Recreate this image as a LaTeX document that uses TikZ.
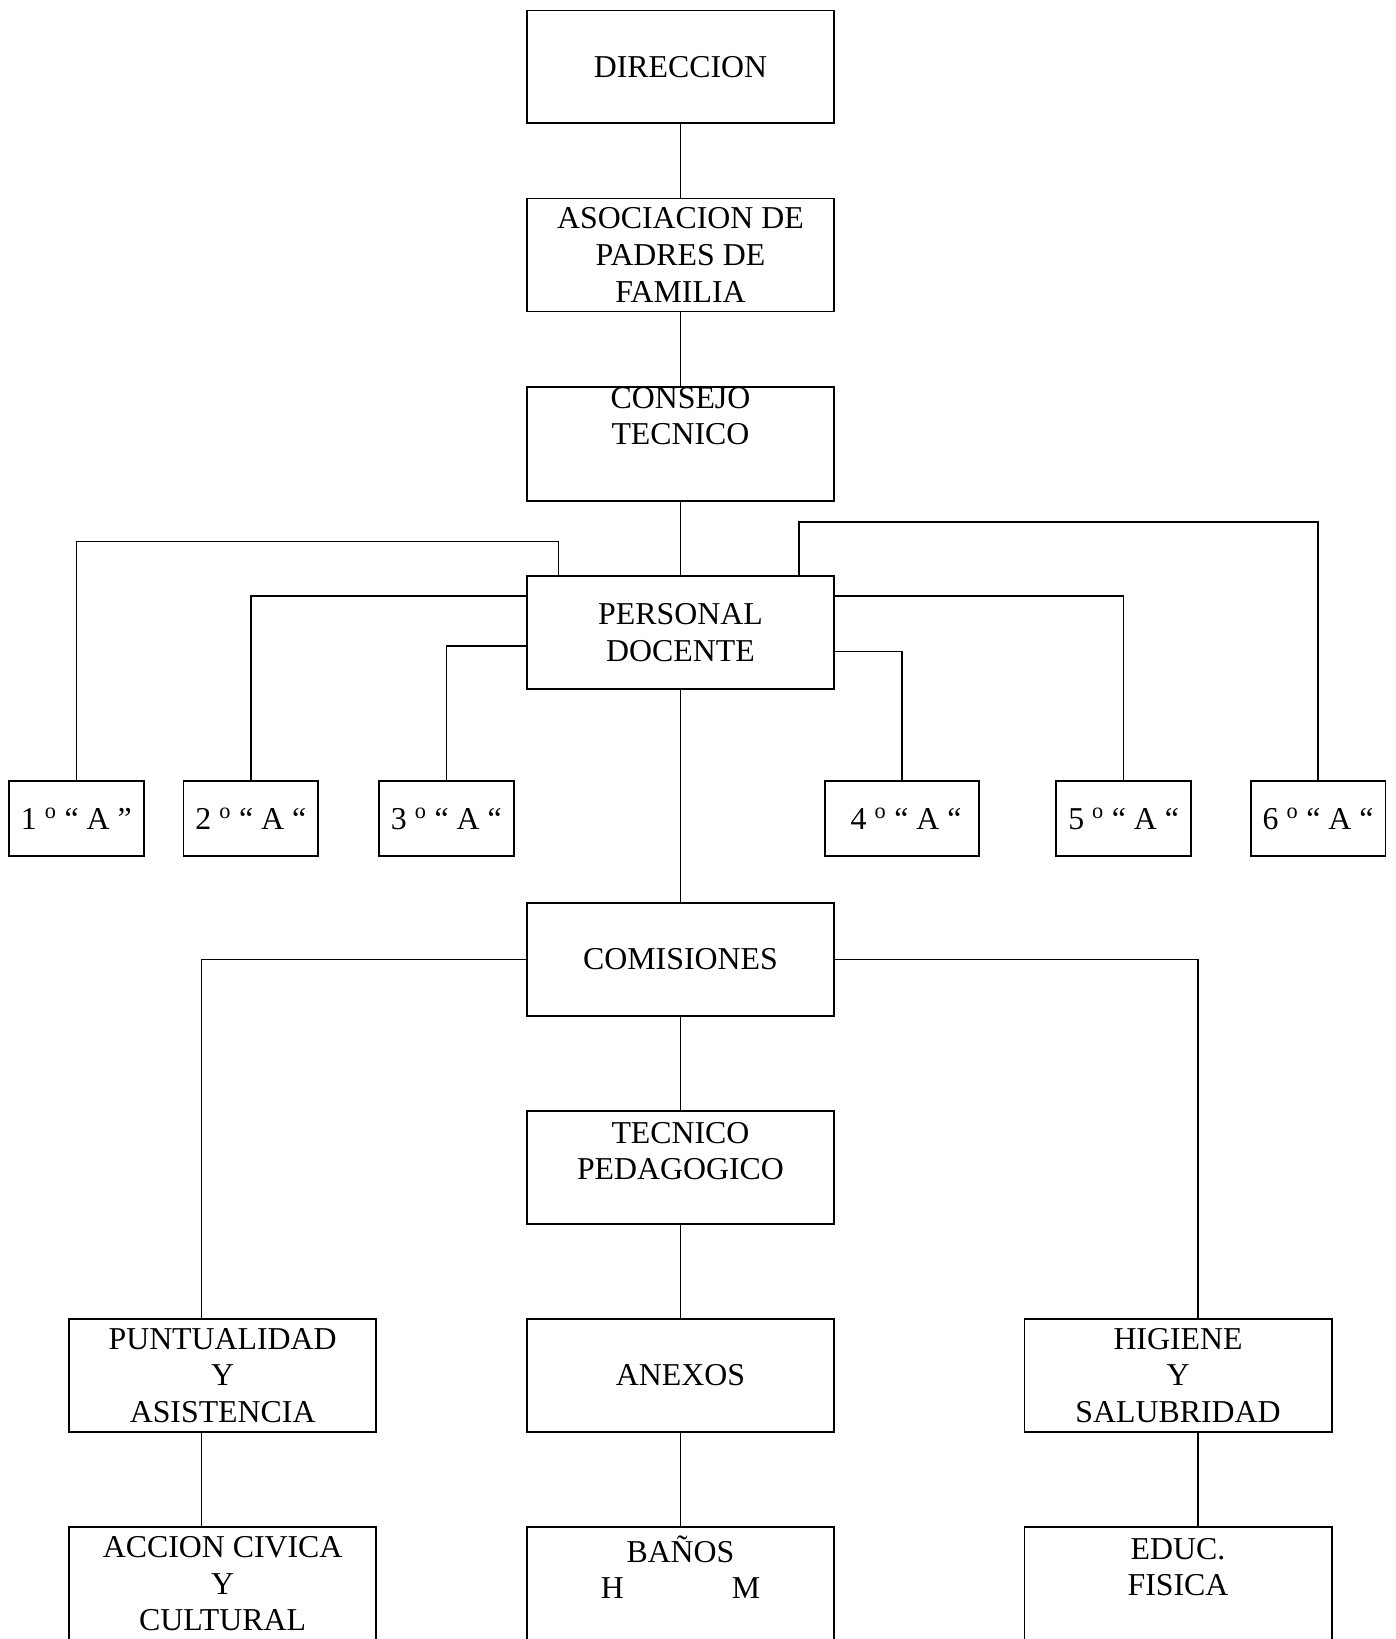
\documentclass[tikz,border=0pt]{standalone}
\usepackage{fontspec}
\setmainfont{Liberation Serif}
\usetikzlibrary{calc}

\begin{document}
\begin{tikzpicture}[x=0.03cm,y=-0.03cm,line width=1.2pt,
    every node/.style={draw=black,line width=1.4pt,rectangle,inner sep=0pt,align=center,
      font=\fontsize{26}{30}\selectfont,minimum width=8.82cm,minimum height=3.24cm},
    grado/.style={minimum width=3.87cm,minimum height=2.16cm}]
                \useasboundingbox (0,0) rectangle (1335,1568);
                \clip (0,0) rectangle (1335,1568);
                \node[] (dir) at (651,64) {DIRECCION};
                \node[] (apf) at (651,244) {ASOCIACION DE\\PADRES DE\\FAMILIA};
                \node[text depth=46pt] (ct) at (651,425) {CONSEJO\\TECNICO};
                \node[] (pd) at (651,605) {PERSONAL\\DOCENTE};
                \node[grado] (c1) at (73,783) {1 \textsuperscript{o} “ A ”};
                \node[grado] (c2) at (240,783) {2 \textsuperscript{o} “ A “};
                \node[grado] (c3) at (427,783) {3 \textsuperscript{o} “ A “};
                \node[grado,minimum width=4.41cm] (c4) at (863,783) {\ 4 \textsuperscript{o} “ A “};
                \node[grado] (c5) at (1075,783) {5 \textsuperscript{o} “ A “};
                \node[grado] (c6) at (1261,783) {6 \textsuperscript{o} “ A “};
                \node[] (com) at (651,918) {COMISIONES};
                \node[text depth=27pt] (tp) at (651,1117) {TECNICO\\PEDAGOGICO};
                \node[] (pya) at (213,1316) {PUNTUALIDAD\\Y\\ASISTENCIA};
                \node[] (anx) at (651,1316) {ANEXOS};
                \node[] (hys) at (1127,1316) {HIGIENE\\Y\\SALUBRIDAD};
                \node[] (acc) at (213,1515) {ACCION CIVICA\\Y\\CULTURAL};
                \node[text depth=27pt] (bno) at (651,1515) {BAÑOS\\H\hspace{3.1cm}M};
                \node[text depth=27pt] (edu) at (1127,1515) {EDUC.\\FISICA};

                \path [-] (dir) edge (apf);
                \path [-] (apf) edge (ct);
                \path [-] (ct) edge (pd);
                \path [-] (pd) edge (com);
                \path [-] (com) edge (tp);
                \path [-] (tp) edge (anx);
                \path [-] (anx) edge (bno);
                \draw ($(pd.north west)+(31,0)$) -- ++(0,-32) -| (c1.north);
                \draw ($(pd.north west)+(0,20)$) -| (c2.north);
                \draw ($(pd.north west)+(0,68)$) -| (c3.north);
                \draw ($(pd.north east)+(0,73)$) -| (c4.north);
                \draw ($(pd.north east)+(0,20)$) -| (c5.north);
                \draw ($(pd.north west)+(261,0)$) -- ++(0,-51) -| (c6.north);
                \draw (com.west) -| ($(pya.north)+(-20,0)$);
                \draw (com.east) -| ($(hys.north)+(19,0)$);
                \draw ($(pya.south)+(-20,0)$) -- ($(acc.north)+(-20,0)$);
                \draw ($(hys.south)+(19,0)$) -- ($(edu.north)+(19,0)$);
            \end{tikzpicture}
\end{document}
